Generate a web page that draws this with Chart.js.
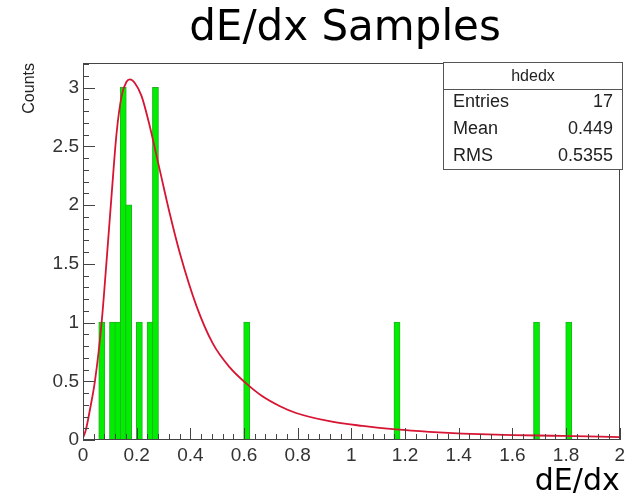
<!DOCTYPE html>
<html>
<head>
<meta charset="utf-8">
<script src="https://cdn.jsdelivr.net/npm/chart.js@4/dist/chart.umd.min.js"></script>
<style>
  html, body { margin: 0; padding: 0; background: #ffffff; }
  #wrap { width: 629px; height: 497px; }
</style>
</head>
<body>
<div id="wrap"><canvas id="c" width="629" height="497"></canvas></div>
<script>
// dE/dx histogram: lower bin edges (bin width 0.02) and their counts
const binWidth = 0.02;
const binLowEdges = [0.06, 0.10, 0.12, 0.14, 0.16, 0.20, 0.24, 0.26, 0.60, 1.16, 1.68, 1.80];
const binCounts   = [1, 1, 1, 3, 2, 1, 1, 3, 1, 1, 1, 1];

// Landau fit curve, sampled along dE/dx
const fitX = [0.0, 0.010, 0.026, 0.045, 0.069, 0.088, 0.107, 0.125, 0.144, 0.162, 0.175, 0.193,
              0.218, 0.249, 0.286, 0.323, 0.361, 0.423, 0.484, 0.546, 0.609, 0.670, 0.732,
              0.794, 0.918, 1.042, 1.166, 1.290, 1.538, 1.786, 2.0];
const fitY = [0.02, 0.08, 0.26, 0.51, 0.99, 1.53, 2.10, 2.61, 2.93, 3.05, 3.07, 3.04,
              2.93, 2.67, 2.30, 1.93, 1.59, 1.14, 0.82, 0.62, 0.48, 0.37, 0.29,
              0.23, 0.16, 0.12, 0.09, 0.07, 0.045, 0.035, 0.025];

// Axis ranges and tick steps
const xRange = [0, 2];
const yRange = [0, 3.21];
const xTickStep = 0.2;
const yTickStep = 0.5;

// Statistics box
const statsName = 'hdedx';
const statsLabels = ['Entries', 'Mean', 'RMS'];
const statsMean = '0.449';
const statsRMS = '0.5355';

const FONT = '"Liberation Sans", Arial, Helvetica, sans-serif';
const TITLE_FONT = '"DejaVu Sans", sans-serif';

const histPoints = binLowEdges.map((lo, i) => ({ x: lo + binWidth / 2, y: binCounts[i] }));
const fitPoints = fitX.map((x, i) => ({ x, y: fitY[i] }));
const entries = binCounts.reduce((a, b) => a + b, 0);

// Frame, inward ticks, title and stats box in the ROOT style
const rootDecor = {
  id: 'rootDecor',
  afterDatasetsDraw(chart) {
    const { ctx, chartArea: a, scales: { x, y } } = chart;
    ctx.save();
    ctx.strokeStyle = '#444';
    ctx.lineWidth = 1;
    ctx.beginPath();
    const xMinor = xTickStep / 5;
    const nx = Math.round((xRange[1] - xRange[0]) / xMinor);
    for (let i = 0; i <= nx; i++) {
      const px = Math.round(x.getPixelForValue(xRange[0] + i * xMinor)) + 0.5;
      const len = i % 5 === 0 ? 12 : 6;
      ctx.moveTo(px, a.bottom);
      ctx.lineTo(px, a.bottom - len);
    }
    const yMinor = yTickStep / 5;
    const ny = Math.floor((yRange[1] - yRange[0]) / yMinor + 1e-6);
    for (let i = 0; i <= ny; i++) {
      const py = Math.round(y.getPixelForValue(yRange[0] + i * yMinor)) + 0.5;
      const len = i % 5 === 0 ? 12 : 6;
      ctx.moveTo(a.left, py);
      ctx.lineTo(a.left + len, py);
    }
    ctx.stroke();
    ctx.strokeRect(Math.round(a.left) + 0.5, Math.round(a.top) + 0.5,
                   Math.round(a.width) - 1, Math.round(a.height) - 1);

    // stats box
    const bx = 443, by = 62, bw = 180, bh = 108;
    const row = bh / 4;
    ctx.fillStyle = '#ffffff';
    ctx.fillRect(bx, by, bw, bh);
    ctx.strokeStyle = '#555';
    ctx.strokeRect(bx + 0.5, by + 0.5, bw - 1, bh - 1);
    ctx.beginPath();
    ctx.moveTo(bx, Math.round(by + row) + 0.5);
    ctx.lineTo(bx + bw, Math.round(by + row) + 0.5);
    ctx.stroke();
    ctx.fillStyle = '#222';
    ctx.textBaseline = 'middle';
    ctx.font = '16px ' + FONT;
    ctx.textAlign = 'center';
    ctx.fillText(statsName, bx + bw / 2, by + row / 2 + 1);
    ctx.font = '18px ' + FONT;
    const vals = [String(entries), statsMean, statsRMS];
    statsLabels.forEach((lab, i) => {
      const cy = by + row * (i + 1.5);
      ctx.textAlign = 'left';
      ctx.fillText(lab, bx + 10, cy);
      ctx.textAlign = 'right';
      ctx.fillText(vals[i], bx + bw - 10, cy);
    });

    // title
    ctx.fillStyle = '#000';
    ctx.textAlign = 'center';
    ctx.font = '42px ' + TITLE_FONT;
    ctx.fillText('dE/dx Samples', 345, 29);
    ctx.restore();
  }
};

const fmt = v => String(Math.round(v * 10) / 10);

new Chart(document.getElementById('c'), {
  type: 'bar',
  data: {
    datasets: [
      {
        type: 'line',
        label: 'landau',
        data: fitPoints,
        borderColor: 'rgb(215, 20, 50)',
        borderWidth: 1.8,
        pointRadius: 0,
        cubicInterpolationMode: 'monotone',
        fill: false,
        order: 0
      },
      {
        type: 'bar',
        label: 'hdedx',
        data: histPoints,
        backgroundColor: '#00ee00',
        borderColor: '#26b026',
        borderWidth: 1,
        inflateAmount: 0.7,
        categoryPercentage: 1,
        barPercentage: 1,
        order: 1
      }
    ]
  },
  options: {
    responsive: false,
    animation: false,
    devicePixelRatio: 1,
    layout: { padding: { top: 63, right: 7, left: 0, bottom: 0 } },
    plugins: { legend: { display: false }, tooltip: { enabled: false }, title: { display: false } },
    scales: {
      x: {
        type: 'linear',
        min: xRange[0], max: xRange[1],
        offset: false,
        grid: { display: false, drawTicks: false },
        border: { display: false },
        ticks: {
          stepSize: xTickStep, autoSkip: false, maxRotation: 0, includeBounds: false,
          padding: 4, color: '#333', font: { size: 19, family: FONT }, callback: fmt
        },
        title: {
          display: true, text: 'dE/dx', align: 'end', color: '#000', padding: 0,
          font: { size: 30, family: TITLE_FONT, lineHeight: 1 }
        },
        afterFit(s) { s.height = 57; }
      },
      y: {
        min: yRange[0], max: yRange[1],
        grid: { display: false, drawTicks: false },
        border: { display: false },
        ticks: {
          stepSize: yTickStep, includeBounds: false,
          padding: 4, color: '#333', font: { size: 19, family: FONT }, callback: fmt
        },
        title: {
          display: true, text: 'Counts', align: 'end', color: '#222',
          padding: { top: 20, bottom: 0 },
          font: { size: 16, family: FONT }
        },
        afterFit(s) { s.width = 83; }
      }
    }
  },
  plugins: [rootDecor]
});
</script>
</body>
</html>
